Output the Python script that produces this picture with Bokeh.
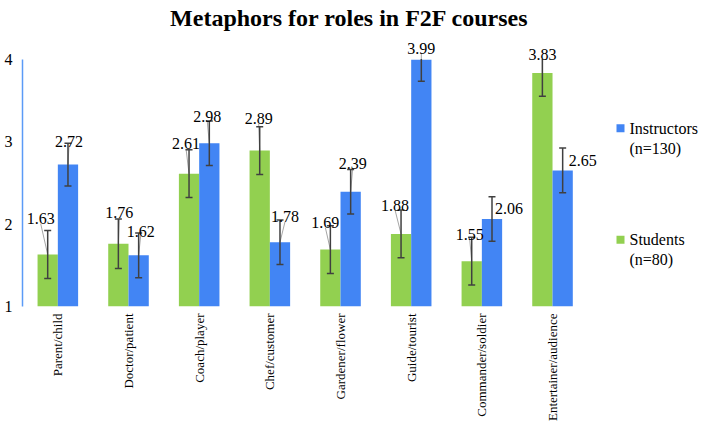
import numpy as np
from bokeh.plotting import figure
from bokeh.models import Range1d, FixedTicker
from bokeh.core.properties import value
from bokeh.embed import file_html
from bokeh.resources import INLINE

# ---------------- data ----------------
categories = ["Parent/child", "Doctor/patient", "Coach/player", "Chef/customer",
              "Gardener/flower", "Guide/tourist", "Commander/soldier",
              "Entertainer/audience"]
students = [1.63, 1.76, 2.61, 2.89, 1.69, 1.88, 1.55, 3.83]
instructors = [2.72, 1.62, 2.98, 1.78, 2.39, 3.99, 2.06, 2.65]
students_err = [0.29, 0.30, 0.29, 0.29, 0.29, 0.29, 0.29, 0.28]
instructors_err = [0.26, 0.27, 0.27, 0.27, 0.27, 0.26, 0.27, 0.27]
y_ticks = [1, 2, 3, 4]
title_text = "Metaphors for roles in F2F courses"
students_legend = ["Students", "(n=80)"]
instructors_legend = ["Instructors", "(n=130)"]

# data-label nudges in pixels (styling only)
students_dx = [-7, 1, -3, -1, -5, -6, -2, 0]
students_gap = [12, 7, 6, 8, 3, 5, 3, 5]
instructors_dx = [1, 2, -2, 5, 2, 0, 17, 20]
instructors_gap = [2, 2, 4, 3, 6, 11, -12, -13]

# ---------------- layout ----------------
W, H = 700, 424
LEFT, BOTTOM = 22, 115
PX_CAT = 70.67     # pixels per category
PX_UNIT = 83.3     # pixels per y unit
FRAME_W = W - LEFT
FRAME_H = H - BOTTOM
Y_MAX = 4.0

GREEN = "#92D050"
BLUE = "#4285F4"
ERR = "#404040"
LEADER = "#A6A6A6"
FONT = "Liberation Serif"


def xd(fx):
    return (fx - LEFT) / PX_CAT - 0.5


def yd(fy):
    return 1 + (FRAME_H - fy) / PX_UNIT


p = figure(width=W, height=H, title=None,
           x_range=Range1d(-0.5, -0.5 + FRAME_W / PX_CAT),
           y_range=Range1d(1, 1 + FRAME_H / PX_UNIT),
           output_backend="svg", toolbar_location=None,
           min_border_left=LEFT, min_border_right=0,
           min_border_top=0, min_border_bottom=BOTTOM)
p.outline_line_color = None
p.xgrid.visible = False
p.ygrid.visible = False
p.background_fill_color = "white"
p.border_fill_color = "white"

# y axis
p.yaxis.ticker = FixedTicker(ticks=y_ticks)
p.yaxis.bounds = (1, 4)
p.yaxis.axis_line_color = "#5B9BF7"
p.yaxis.axis_line_width = 1.5
p.yaxis.major_tick_line_color = None
p.yaxis.minor_tick_line_color = None
p.yaxis.major_tick_out = 0
p.yaxis.major_tick_in = 0
p.yaxis.major_label_standoff = 10
p.yaxis.major_label_text_font = FONT
p.yaxis.major_label_text_font_size = "16px"
p.yaxis.major_label_text_color = "black"

# x axis
idx = np.arange(len(categories))
p.xaxis.ticker = FixedTicker(ticks=list(range(len(categories))))
p.xaxis.major_label_overrides = {i: c for i, c in enumerate(categories)}
p.xaxis.major_label_orientation = float(np.pi / 2)
p.xaxis.axis_line_color = None
p.xaxis.major_tick_line_color = None
p.xaxis.minor_tick_line_color = None
p.xaxis.major_tick_out = 0
p.xaxis.major_tick_in = 0
p.xaxis.major_label_standoff = 7
p.xaxis.major_label_text_font = FONT
p.xaxis.major_label_text_font_size = "13px"
p.xaxis.major_label_text_color = "black"

BAR_W = 0.287
half = BAR_W / 2

series = [
    (idx - half, np.array(students), np.array(students_err), GREEN,
     students_dx, students_gap),
    (idx + half, np.array(instructors), np.array(instructors_err), BLUE,
     instructors_dx, instructors_gap),
]

for cx, vals, err, color, dx, gap in series:
    p.vbar(x=cx, top=vals, bottom=1, width=BAR_W, fill_color=color,
           line_color=None)

for cx, vals, err, color, dx, gap in series:
    upper = vals + err
    upper_c = np.minimum(upper, Y_MAX)
    lower = vals - err
    lx = cx + np.array(dx) / PX_CAT
    ly = upper_c + np.array(gap) / PX_UNIT
    # leader lines for nudged labels above their bars
    g = np.array(gap) > 0
    p.segment(x0=lx[g], y0=(ly - 5 / PX_UNIT)[g], x1=cx[g], y1=vals[g],
              line_color=LEADER, line_width=1)
    # error bars
    p.segment(x0=cx, y0=lower, x1=cx, y1=upper_c, line_color=ERR,
              line_width=1.5)
    p.scatter(x=cx, y=lower, marker="dash", size=7, line_color=ERR,
              line_width=1.5)
    unc = upper <= Y_MAX
    p.scatter(x=cx[unc], y=upper[unc], marker="dash", size=7,
              line_color=ERR, line_width=1.5)
    p.text(x=lx, y=ly, text=[f"{v:.2f}" for v in vals],
           text_font=value(FONT), text_font_size="16px",
           text_align="center", text_baseline="alphabetic",
           text_color="black")

# title
p.text(x=[xd(349)], y=[yd(18)], text=[title_text], text_font=value(FONT),
       text_font_size="24px", text_font_style="bold", text_align="center",
       text_baseline="alphabetic", text_color="black")

# legend
for lines, color, fy in [(instructors_legend, BLUE, 129),
                         (students_legend, GREEN, 241.7)]:
    p.scatter(x=[xd(620)], y=[yd(fy)], marker="square", size=8,
              fill_color=color, line_color=None)
    p.text(x=[xd(629)] * 2, y=[yd(fy), yd(fy + 20.3)], text=lines,
           text_font=value(FONT), text_font_size="16px", text_align="left",
           text_baseline="middle", text_color="black")

open("out.html", "w").write(file_html(p, INLINE))
